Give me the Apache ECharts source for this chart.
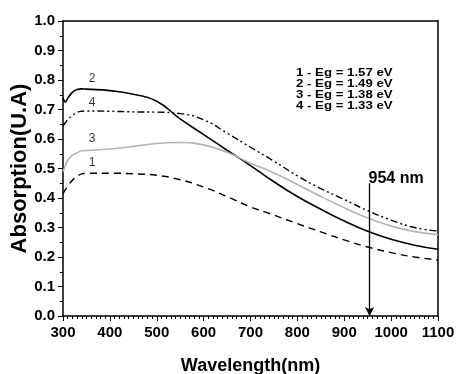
<!DOCTYPE html>
<html>
<head>
<meta charset="utf-8">
<script src="https://cdn.jsdelivr.net/npm/echarts@6/dist/echarts.min.js"></script>
<style>
  html, body { margin: 0; padding: 0; background: #fff; }
  #chart { width: 456px; height: 374px; }
</style>
</head>
<body>
<div id="chart"></div>
<script>
// wavelength samples (nm)
const wavelengths = [300, 305, 310, 320, 330, 340, 350, 400, 450, 500, 550, 600, 650, 700, 750, 800, 850, 900, 950, 1000, 1050, 1100];

// absorption
const curve1 = [0.415, 0.428, 0.44, 0.46, 0.473, 0.482, 0.484, 0.484, 0.482, 0.477, 0.462, 0.437, 0.405, 0.37, 0.342, 0.313, 0.285, 0.258, 0.234, 0.215, 0.2, 0.19];
const curve2 = [0.74, 0.726, 0.738, 0.758, 0.768, 0.77, 0.769, 0.764, 0.752, 0.728, 0.668, 0.615, 0.562, 0.51, 0.455, 0.405, 0.362, 0.322, 0.287, 0.26, 0.24, 0.226];
const curve3 = [0.49, 0.51, 0.527, 0.545, 0.553, 0.56, 0.561, 0.566, 0.575, 0.585, 0.588, 0.58, 0.555, 0.518, 0.485, 0.446, 0.405, 0.367, 0.332, 0.305, 0.286, 0.276];
const curve4 = [0.645, 0.655, 0.665, 0.68, 0.69, 0.694, 0.695, 0.694, 0.692, 0.691, 0.686, 0.665, 0.62, 0.572, 0.525, 0.475, 0.432, 0.395, 0.357, 0.325, 0.3, 0.288];

const curveNames = ['1', '2', '3', '4'];
// where the small numbers sit next to each curve [nm, A]
const curveTags = [[362, 0.52], [362, 0.805], [362, 0.60], [362, 0.723]];

const legendLines = ['1 - Eg = 1.57 eV', '2 - Eg = 1.49 eV', '3 - Eg = 1.38 eV', '4 - Eg = 1.33 eV'];

const markerNm = 954;
const markerTop = 0.45;

const FONT = 'Arial, "Liberation Sans", sans-serif';

const pair = (ys) => wavelengths.map((x, i) => [x, ys[i]]);

const frameAxis = {
  axisLine: { show: true, onZero: false, lineStyle: { color: '#000', width: 1.5 } },
  axisTick: { show: false },
  axisLabel: { show: false },
  splitLine: { show: false },
};

const chart = echarts.init(document.getElementById('chart'));

chart.setOption({
  animation: false,
  backgroundColor: '#fff',
  grid: {
    left: 63, right: 18, top: 21, bottom: 58,
    outerBoundsMode: 'none',
  },
  xAxis: [
    {
      type: 'value',
      min: 300, max: 1100, interval: 100,
      name: 'Wavelength(nm)',
      nameLocation: 'middle',
      nameGap: 41,
      nameMoveOverlap: false,
      nameTextStyle: { fontFamily: FONT, fontWeight: 'bold', fontSize: 18, color: '#000' },
      axisLine: { onZero: false, lineStyle: { color: '#000', width: 1.5 } },
      axisTick: { length: 5, lineStyle: { color: '#000' } },
      minorTick: { show: true, splitNumber: 10, length: 3, lineStyle: { color: '#000' } },
      axisLabel: {
        fontFamily: FONT, fontWeight: 'bold', fontSize: 15, color: '#000', margin: 9,
        formatter: (v) => String(v),
      },
      splitLine: { show: false },
    },
    { type: 'value', position: 'top', min: 300, max: 1100, ...frameAxis },
  ],
  yAxis: [
    {
      type: 'value',
      min: 0, max: 1, interval: 0.1,
      name: 'Absorption(U.A)',
      nameLocation: 'middle',
      nameGap: 32,
      nameMoveOverlap: false,
      nameTextStyle: { fontFamily: FONT, fontWeight: 'bold', fontSize: 22, color: '#000' },
      axisLine: { onZero: false, lineStyle: { color: '#000', width: 1.5 } },
      axisTick: { length: 5, lineStyle: { color: '#000' } },
      minorTick: { show: true, splitNumber: 2, length: 3, lineStyle: { color: '#000' } },
      axisLabel: {
        fontFamily: FONT, fontWeight: 'bold', fontSize: 15, color: '#000', margin: 8,
        formatter: (v) => v.toFixed(1),
      },
      splitLine: { show: false },
    },
    { type: 'value', position: 'right', min: 0, max: 1, ...frameAxis },
  ],
  // the legend box text is drawn a little wide in the original
  graphic: legendLines.map((line, i) => ({
    type: 'text',
    left: 296,
    top: 67 + i * 11,
    scaleX: 1.15,
    style: { text: line, font: 'bold 11.5px ' + FONT, fill: '#000' },
  })),
  series: [
    {
      name: '1', type: 'line', smooth: true, symbol: 'none',
      data: pair(curve1),
      lineStyle: { color: '#000', width: 1.4, type: [7, 5] },
    },
    {
      name: '2', type: 'line', smooth: true, symbol: 'none',
      data: pair(curve2),
      lineStyle: { color: '#000', width: 1.6 },
      markLine: {
        silent: true,
        symbol: ['none', 'arrow'],
        symbolSize: [7, 9],
        lineStyle: { color: '#000', width: 1.3, type: 'solid' },
        label: {
          show: true, position: 'start', formatter: markerNm + ' nm',
          fontFamily: FONT, fontWeight: 'bold', fontSize: 16, color: '#000',
          align: 'left', offset: [-1, 8],
        },
        data: [[{ coord: [markerNm, markerTop] }, { coord: [markerNm, 0] }]],
      },
    },
    {
      name: '3', type: 'line', smooth: true, symbol: 'none',
      data: pair(curve3),
      lineStyle: { color: '#b4b4b4', width: 1.6 },
    },
    {
      name: '4', type: 'line', smooth: true, symbol: 'none',
      data: pair(curve4),
      lineStyle: { color: '#000', width: 1.4, type: [7, 3, 2, 3, 2, 3] },
    },
    {
      type: 'scatter', symbolSize: 0,
      data: curveTags.map((p, i) => ({ value: p, name: curveNames[i] })),
      label: {
        show: true, position: 'inside', formatter: '{b}',
        fontFamily: FONT, fontSize: 12, color: '#000',
      },
    },
  ],
});
</script>
</body>
</html>
